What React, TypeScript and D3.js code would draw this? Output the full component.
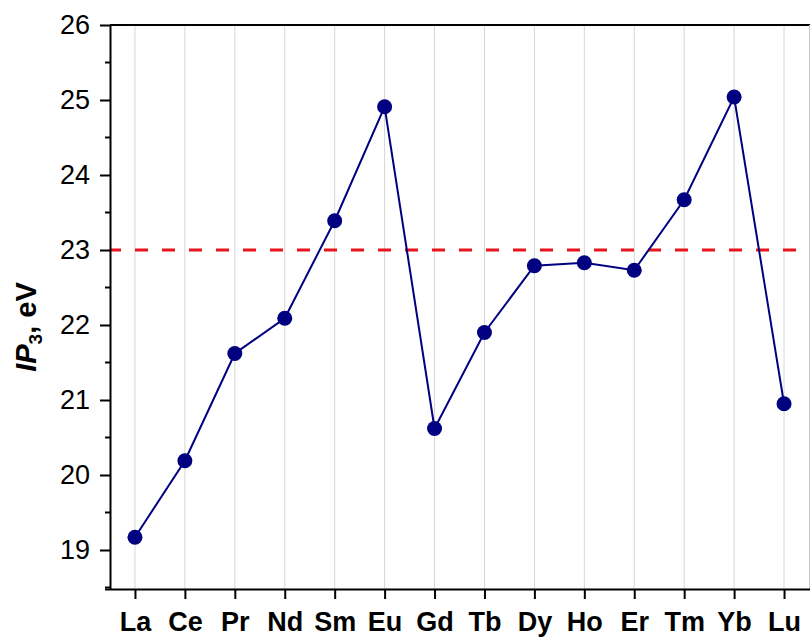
import React, { useRef, useEffect } from "react";
import * as d3 from "d3";

// lanthanide third ionization potentials
const elements = ["La", "Ce", "Pr", "Nd", "Sm", "Eu", "Gd", "Tb", "Dy", "Ho", "Er", "Tm", "Yb", "Lu"];
const ip3Values = [19.17, 20.19, 21.62, 22.09, 23.39, 24.91, 20.62, 21.9, 22.79, 22.83, 22.73, 23.67, 25.04, 20.95];
const referenceLevel = 23.0;
const yMajorTicks = [19, 20, 21, 22, 23, 24, 25, 26];
const yMinorTicks = [18.5, 19.5, 20.5, 21.5, 22.5, 23.5, 24.5, 25.5];

const App = () => {
	const svgRef = useRef(null);
	const width = 810;
	const height = 638;
	const left = 110;
	const right = 809;
	const top = 25;
	const bottom = 589;
	const font = "'Liberation Sans', Arial, Helvetica, sans-serif";

	useEffect(() => {
		const svg = d3.select(svgRef.current);
		svg.selectAll("*").remove();

		const x = d3.scalePoint().domain(elements).range([left, right]).padding(0.5);
		const y = d3.scaleLinear().domain([18.48, 26]).range([bottom, top]);

		// vertical grid
		svg.append("g")
			.selectAll("line")
			.data(elements)
			.join("line")
			.attr("x1", d => x(d)).attr("x2", d => x(d))
			.attr("y1", top).attr("y2", bottom)
			.attr("stroke", "#d6d6d6")
			.attr("stroke-width", 1);

		// frame: top and right
		svg.append("line")
			.attr("x1", left).attr("x2", width)
			.attr("y1", top).attr("y2", top)
			.attr("stroke", "#000").attr("stroke-width", 2);
		svg.append("line")
			.attr("x1", right + 0.5).attr("x2", right + 0.5)
			.attr("y1", top).attr("y2", bottom)
			.attr("stroke", "#c8c8c8").attr("stroke-width", 1);

		// reference line
		svg.append("line")
			.attr("x1", left).attr("x2", width)
			.attr("y1", y(referenceLevel)).attr("y2", y(referenceLevel))
			.attr("stroke", "#e8141c")
			.attr("stroke-width", 3)
			.attr("stroke-dasharray", "13 14")
			.attr("stroke-dashoffset", 2);

		// y axis
		const yAxis = d3.axisLeft(y).tickValues(yMajorTicks).tickSize(10).tickSizeOuter(0).tickPadding(10);
		const gy = svg.append("g").attr("transform", `translate(${left},0)`).call(yAxis);
		gy.select(".domain").attr("stroke-width", 2);
		gy.selectAll(".tick line").attr("stroke-width", 2);
		gy.selectAll("text")
			.attr("font-family", font)
			.attr("font-size", 27)
			.attr("fill", "#000");
		svg.append("g")
			.selectAll("line")
			.data(yMinorTicks)
			.join("line")
			.attr("x1", left - 5).attr("x2", left)
			.attr("y1", d => y(d)).attr("y2", d => y(d))
			.attr("stroke", "#000").attr("stroke-width", 2);

		// x axis
		const xAxis = d3.axisBottom(x).tickSize(10).tickSizeOuter(0).tickPadding(13);
		const gx = svg.append("g").attr("transform", `translate(0,${bottom})`).call(xAxis);
		gx.select(".domain").attr("stroke-width", 2).attr("d", `M${left - 5},0.5H${width}`);
		gx.selectAll(".tick line").attr("stroke-width", 2);
		gx.selectAll("text")
			.attr("font-family", font)
			.attr("font-size", 27)
			.attr("font-weight", "bold")
			.attr("fill", "#000");

		// series line and points
		const pts = elements.map((e, i) => [x(e), y(ip3Values[i])]);
		svg.append("path")
			.attr("d", d3.line()(pts))
			.attr("fill", "none")
			.attr("stroke", "#000080")
			.attr("stroke-width", 2);
		svg.append("g")
			.selectAll("circle")
			.data(pts)
			.join("circle")
			.attr("cx", d => d[0])
			.attr("cy", d => d[1])
			.attr("r", 7.5)
			.attr("fill", "#000080");

		// y title
		const title = svg.append("text")
			.attr("transform", `translate(36,${(top + bottom) / 2 + 20}) rotate(-90)`)
			.attr("text-anchor", "middle")
			.attr("font-family", font)
			.attr("font-size", 29)
			.attr("font-weight", "bold")
			.attr("fill", "#000");
		title.append("tspan").attr("font-style", "italic").text("IP");
		title.append("tspan").attr("font-size", 19).attr("dy", "0.3em").text("3");
		title.append("tspan").attr("dy", "-0.2em").text(", eV");
	});

	return (
		<svg ref={svgRef} width={width} height={height}
			style={{ position: "absolute", left: 0, top: 0, background: "#fff" }}>
		</svg>
	);
};

export default App;
